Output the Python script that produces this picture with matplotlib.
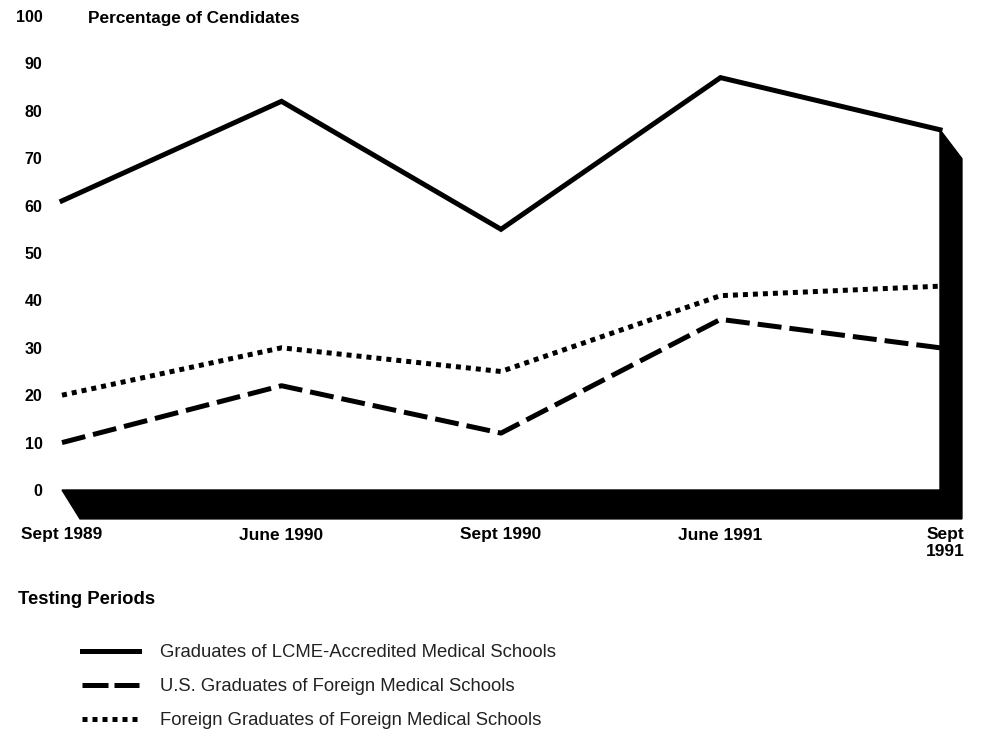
import numpy as np
import matplotlib
matplotlib.use("Agg")
import matplotlib.pyplot as plt
from matplotlib.patches import Polygon
from matplotlib.lines import Line2D
from matplotlib.transforms import ScaledTranslation

plt.rcParams['font.family'] = ['Liberation Sans', 'DejaVu Sans']

# testing periods and pass percentages
periods = ["Sept 1989", "June 1990", "Sept 1990", "June 1991", "Sept\n1991"]
lcme = [61, 82, 55, 87, 76]
us_img = [10, 22, 12, 36, 30]
foreign_img = [20, 30, 25, 41, 43]
series_names = [
    "Graduates of LCME-Accredited Medical Schools",
    "U.S. Graduates of Foreign Medical Schools",
    "Foreign Graduates of Foreign Medical Schools",
]
yticks = list(range(0, 101, 10))

W, H = 981, 730
fig = plt.figure(figsize=(W / 100, H / 100), dpi=100)
ax = fig.add_axes([62 / W, 240 / H, 878 / W, 474 / H])
ax.set_xlim(0, 4)
ax.set_ylim(0, 100)
for s in ax.spines.values():
    s.set_visible(False)

x = np.arange(len(periods))

# black "3D" floor and right-hand wall
dx, dy = 0.1, 6.1
floor = Polygon([(0, 0), (4, 0), (4, lcme[-1]), (4 + dx, lcme[-1] - dy),
                 (4 + dx, -dy), (0.082, -dy)],
                closed=True, facecolor='black', edgecolor='black',
                clip_on=False, zorder=1)
ax.add_patch(floor)

lw = 3.6
ax.plot(x, lcme, color='black', lw=lw, solid_joinstyle='miter',
        clip_on=False, zorder=3)
ax.plot(x, us_img, color='black', lw=lw, dashes=(4.8, 1.6),
        dash_capstyle='butt', clip_on=False, zorder=3)
ax.plot(x, foreign_img, color='black', lw=lw, dashes=(1, 1),
        dash_capstyle='butt', clip_on=False, zorder=3)

# ticks
ax.set_yticks(yticks)
ax.set_yticklabels([str(v) for v in yticks], fontsize=11.5, fontweight='bold')
ax.tick_params(axis='y', length=0, pad=14)
ax.set_xticks(x)
ax.set_xticklabels(periods, fontsize=12.5, fontweight='bold', linespacing=1.15)
ax.tick_params(axis='x', length=0, pad=27)
last = ax.get_xticklabels()[-1]
last.set_transform(last.get_transform() + ScaledTranslation(0.05, 0, fig.dpi_scale_trans))

fig.text(88 / W, 1 - 18 / H, "Percentage of Cendidates", fontsize=12.4,
         fontweight='bold', va='center', ha='left')
fig.text(18 / W, 1 - 600 / H, "Testing Periods", fontsize=13.3,
         fontweight='bold', va='center', ha='left')

# legend
handles = [
    Line2D([], [], color='black', lw=lw),
    Line2D([], [], color='black', lw=lw, dashes=(5.2, 1.2), dash_capstyle='butt'),
    Line2D([], [], color='black', lw=lw, dashes=(1, 1), dash_capstyle='butt'),
]
fig.legend(handles, series_names, loc='upper left',
           bbox_to_anchor=(82 / W, 1 - 644 / H), frameon=False,
           fontsize=13.3, handlelength=3.1, handletextpad=1.1,
           labelspacing=0.93, borderpad=0, borderaxespad=0,
           labelcolor='#222222')

fig.savefig("out.png", dpi=100)
